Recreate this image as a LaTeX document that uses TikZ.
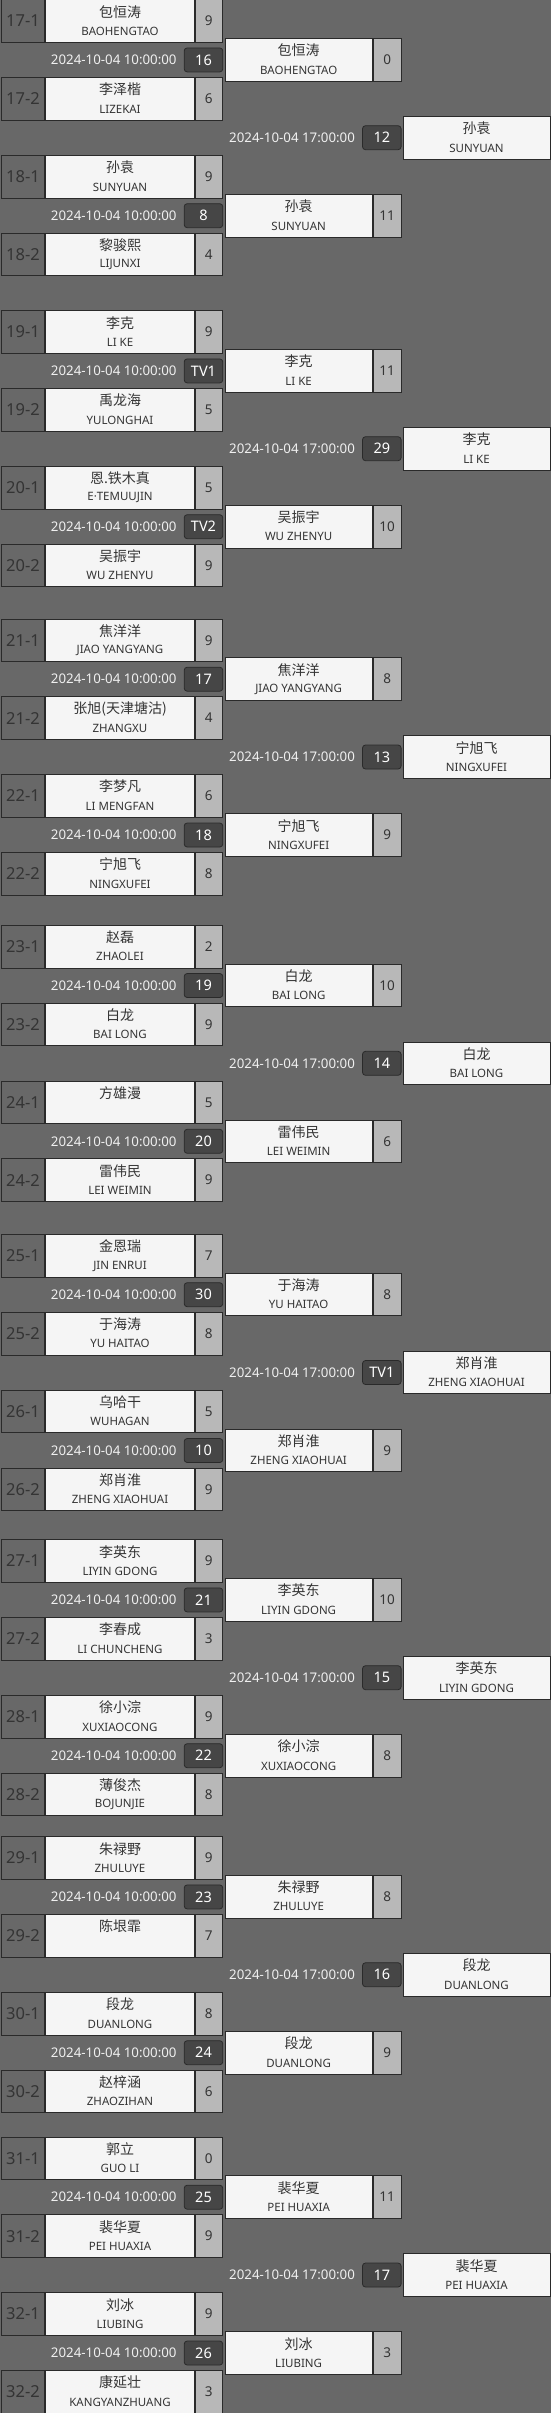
\documentclass[tikz,border=0pt]{standalone}
\usepackage{fontspec}
\setmainfont{Noto Sans}
\newfontfamily\cjk{Noto Sans CJK SC}
\definecolor{bracketbg}{RGB}{104,104,104}
\definecolor{cellline}{RGB}{42,42,42}
\definecolor{namefill}{RGB}{245,245,245}
\definecolor{scorefill}{RGB}{184,184,184}
\definecolor{badgefill}{RGB}{70,70,70}
\definecolor{inktext}{RGB}{52,52,52}
\tikzset{
  cell/.style={draw=cellline,line width=0.8pt,inner sep=0pt,minimum height=42.6pt},
  seedcell/.style={cell,fill=bracketbg,minimum width=42.6pt,text=inktext,
    font=\fontsize{16.5}{18}\selectfont},
  namecell/.style={cell,fill=namefill},
  scorecell/.style={cell,fill=scorefill,minimum width=27.7pt,text=inktext,
    font=\fontsize{13.5}{15}\selectfont},
  cnname/.style={inner sep=0pt,text=inktext,font=\cjk\fontsize{14}{16}\selectfont},
  enname/.style={inner sep=0pt,text=inktext,font=\fontsize{11.5}{13}\selectfont},
  badge/.style={draw=cellline,fill=badgefill,rounded corners=3pt,line width=0.8pt,
    minimum width=38.6pt,minimum height=24pt,inner sep=0pt,text=white,
    font=\bfseries\fontsize{14.5}{16}\selectfont},
  datetext/.style={inner sep=0pt,text=white!94!black,font=\fontsize{13.3}{15}\selectfont}
}
% first round line: id, y, seed, chinese, pinyin, score
\newcommand{\entrant}[6]{%
  \node[seedcell] (s#1) at (23,#2) {#3};
  \node[namecell,minimum width=148.6pt] (n#1) at (120,#2) {};
  \node[cnname] (c#1) at ([yshift=9.3pt]n#1.center) {#4};
  \node[enname] (e#1) at ([yshift=-10.2pt]n#1.center) {#5};
  \node[scorecell] (r#1) at (208.85,#2) {#6};
}
% second round line: id, y, chinese, pinyin, score
\newcommand{\advancer}[5]{%
  \node[namecell,minimum width=147.3pt] (n#1) at (298.65,#2) {};
  \node[cnname] (c#1) at ([yshift=9.3pt]n#1.center) {#3};
  \node[enname] (e#1) at ([yshift=-10.2pt]n#1.center) {#4};
  \node[scorecell,minimum width=28.3pt] (r#1) at (387.15,#2) {#5};
}
% third round line: id, y, chinese, pinyin
\newcommand{\champion}[4]{%
  \node[namecell,minimum width=147pt] (n#1) at (476.5,#2) {};
  \node[cnname] (c#1) at ([yshift=9.3pt]n#1.center) {#3};
  \node[enname] (e#1) at ([yshift=-10.2pt]n#1.center) {#4};
}
% match time and number: id, y, x, time, number
\newcommand{\fixture}[5]{%
  \node[badge] (b#1) at (#3,#2) {#5};
  \node[datetext,anchor=east] (d#1) at ([xshift=-7pt]b#1.west) {#4};
}
\begin{document}
\begin{tikzpicture}[x=1pt,y=-1pt]
\fill[bracketbg] (0,0) rectangle (551,2413);
\useasboundingbox (0,0) rectangle (551,2413);

% 17 / 18
\begin{scope}[shift={(0,-0.3)}]
\entrant{171}{21.3}{17-1}{包恒涛}{BAOHENGTAO}{9}
\fixture{f17}{60.2}{203.5}{2024-10-04 10:00:00}{16}
\entrant{172}{99.1}{17-2}{李泽楷}{LIZEKAI}{6}
\entrant{181}{177}{18-1}{孙袁}{SUNYUAN}{9}
\fixture{f18}{216}{203.5}{2024-10-04 10:00:00}{8}
\entrant{182}{254.8}{18-2}{黎骏熙}{LIJUNXI}{4}
\advancer{q17}{60}{包恒涛}{BAOHENGTAO}{0}
\advancer{q18}{216}{孙袁}{SUNYUAN}{11}
\fixture{g17}{138}{381.8}{2024-10-04 17:00:00}{12}
\champion{h17}{138}{孙袁}{SUNYUAN}
\end{scope}

% 19 / 20
\begin{scope}[shift={(0,310.7)}]
\entrant{191}{21.3}{19-1}{李克}{LI KE}{9}
\fixture{f19}{60.2}{203.5}{2024-10-04 10:00:00}{TV1}
\entrant{192}{99.1}{19-2}{禹龙海}{YULONGHAI}{5}
\entrant{201}{177}{20-1}{恩.铁木真}{E·TEMUUJIN}{5}
\fixture{f20}{216}{203.5}{2024-10-04 10:00:00}{TV2}
\entrant{202}{254.8}{20-2}{吴振宇}{WU ZHENYU}{9}
\advancer{q19}{60}{李克}{LI KE}{11}
\advancer{q20}{216}{吴振宇}{WU ZHENYU}{10}
\fixture{g19}{138}{381.8}{2024-10-04 17:00:00}{29}
\champion{h19}{138}{李克}{LI KE}
\end{scope}

% 21 / 22
\begin{scope}[shift={(0,619)}]
\entrant{211}{21.3}{21-1}{焦洋洋}{JIAO YANGYANG}{9}
\fixture{f21}{60.2}{203.5}{2024-10-04 10:00:00}{17}
\entrant{212}{99.1}{21-2}{张旭(天津塘沽)}{ZHANGXU}{4}
\entrant{221}{177}{22-1}{李梦凡}{LI MENGFAN}{6}
\fixture{f22}{216}{203.5}{2024-10-04 10:00:00}{18}
\entrant{222}{254.8}{22-2}{宁旭飞}{NINGXUFEI}{8}
\advancer{q21}{60}{焦洋洋}{JIAO YANGYANG}{8}
\advancer{q22}{216}{宁旭飞}{NINGXUFEI}{9}
\fixture{g21}{138}{381.8}{2024-10-04 17:00:00}{13}
\champion{h21}{138}{宁旭飞}{NINGXUFEI}
\end{scope}

% 23 / 24
\begin{scope}[shift={(0,925.3)}]
\entrant{231}{21.3}{23-1}{赵磊}{ZHAOLEI}{2}
\fixture{f23}{60.2}{203.5}{2024-10-04 10:00:00}{19}
\entrant{232}{99.1}{23-2}{白龙}{BAI LONG}{9}
\entrant{241}{177}{24-1}{方雄漫}{}{5}
\fixture{f24}{216}{203.5}{2024-10-04 10:00:00}{20}
\entrant{242}{254.8}{24-2}{雷伟民}{LEI WEIMIN}{9}
\advancer{q23}{60}{白龙}{BAI LONG}{10}
\advancer{q24}{216}{雷伟民}{LEI WEIMIN}{6}
\fixture{g23}{138}{381.8}{2024-10-04 17:00:00}{14}
\champion{h23}{138}{白龙}{BAI LONG}
\end{scope}

% 25 / 26
\begin{scope}[shift={(0,1234.5)}]
\entrant{251}{21.3}{25-1}{金恩瑞}{JIN ENRUI}{7}
\fixture{f25}{60.2}{203.5}{2024-10-04 10:00:00}{30}
\entrant{252}{99.1}{25-2}{于海涛}{YU HAITAO}{8}
\entrant{261}{177}{26-1}{乌哈干}{WUHAGAN}{5}
\fixture{f26}{216}{203.5}{2024-10-04 10:00:00}{10}
\entrant{262}{254.8}{26-2}{郑肖淮}{ZHENG XIAOHUAI}{9}
\advancer{q25}{60}{于海涛}{YU HAITAO}{8}
\advancer{q26}{216}{郑肖淮}{ZHENG XIAOHUAI}{9}
\fixture{g25}{138}{381.8}{2024-10-04 17:00:00}{TV1}
\champion{h25}{138}{郑肖淮}{ZHENG XIAOHUAI}
\end{scope}

% 27 / 28
\begin{scope}[shift={(0,1539.7)}]
\entrant{271}{21.3}{27-1}{李英东}{LIYIN GDONG}{9}
\fixture{f27}{60.2}{203.5}{2024-10-04 10:00:00}{21}
\entrant{272}{99.1}{27-2}{李春成}{LI CHUNCHENG}{3}
\entrant{281}{177}{28-1}{徐小淙}{XUXIAOCONG}{9}
\fixture{f28}{216}{203.5}{2024-10-04 10:00:00}{22}
\entrant{282}{254.8}{28-2}{薄俊杰}{BOJUNJIE}{8}
\advancer{q27}{60}{李英东}{LIYIN GDONG}{10}
\advancer{q28}{216}{徐小淙}{XUXIAOCONG}{8}
\fixture{g27}{138}{381.8}{2024-10-04 17:00:00}{15}
\champion{h27}{138}{李英东}{LIYIN GDONG}
\end{scope}

% 29 / 30
\begin{scope}[shift={(0,1836.7)}]
\entrant{291}{21.3}{29-1}{朱禄野}{ZHULUYE}{9}
\fixture{f29}{60.2}{203.5}{2024-10-04 10:00:00}{23}
\entrant{292}{99.1}{29-2}{陈垠霏}{}{7}
\entrant{301}{177}{30-1}{段龙}{DUANLONG}{8}
\fixture{f30}{216}{203.5}{2024-10-04 10:00:00}{24}
\entrant{302}{254.8}{30-2}{赵梓涵}{ZHAOZIHAN}{6}
\advancer{q29}{60}{朱禄野}{ZHULUYE}{8}
\advancer{q30}{216}{段龙}{DUANLONG}{9}
\fixture{g29}{138}{381.8}{2024-10-04 17:00:00}{16}
\champion{h29}{138}{段龙}{DUANLONG}
\end{scope}

% 31 / 32
\begin{scope}[shift={(0,2137)}]
\entrant{311}{21.3}{31-1}{郭立}{GUO LI}{0}
\fixture{f31}{60.2}{203.5}{2024-10-04 10:00:00}{25}
\entrant{312}{99.1}{31-2}{裴华夏}{PEI HUAXIA}{9}
\entrant{321}{177}{32-1}{刘冰}{LIUBING}{9}
\fixture{f32}{216}{203.5}{2024-10-04 10:00:00}{26}
\entrant{322}{254.8}{32-2}{康延壮}{KANGYANZHUANG}{3}
\advancer{q31}{60}{裴华夏}{PEI HUAXIA}{11}
\advancer{q32}{216}{刘冰}{LIUBING}{3}
\fixture{g31}{138}{381.8}{2024-10-04 17:00:00}{17}
\champion{h31}{138}{裴华夏}{PEI HUAXIA}
\end{scope}
\end{tikzpicture}
\end{document}
